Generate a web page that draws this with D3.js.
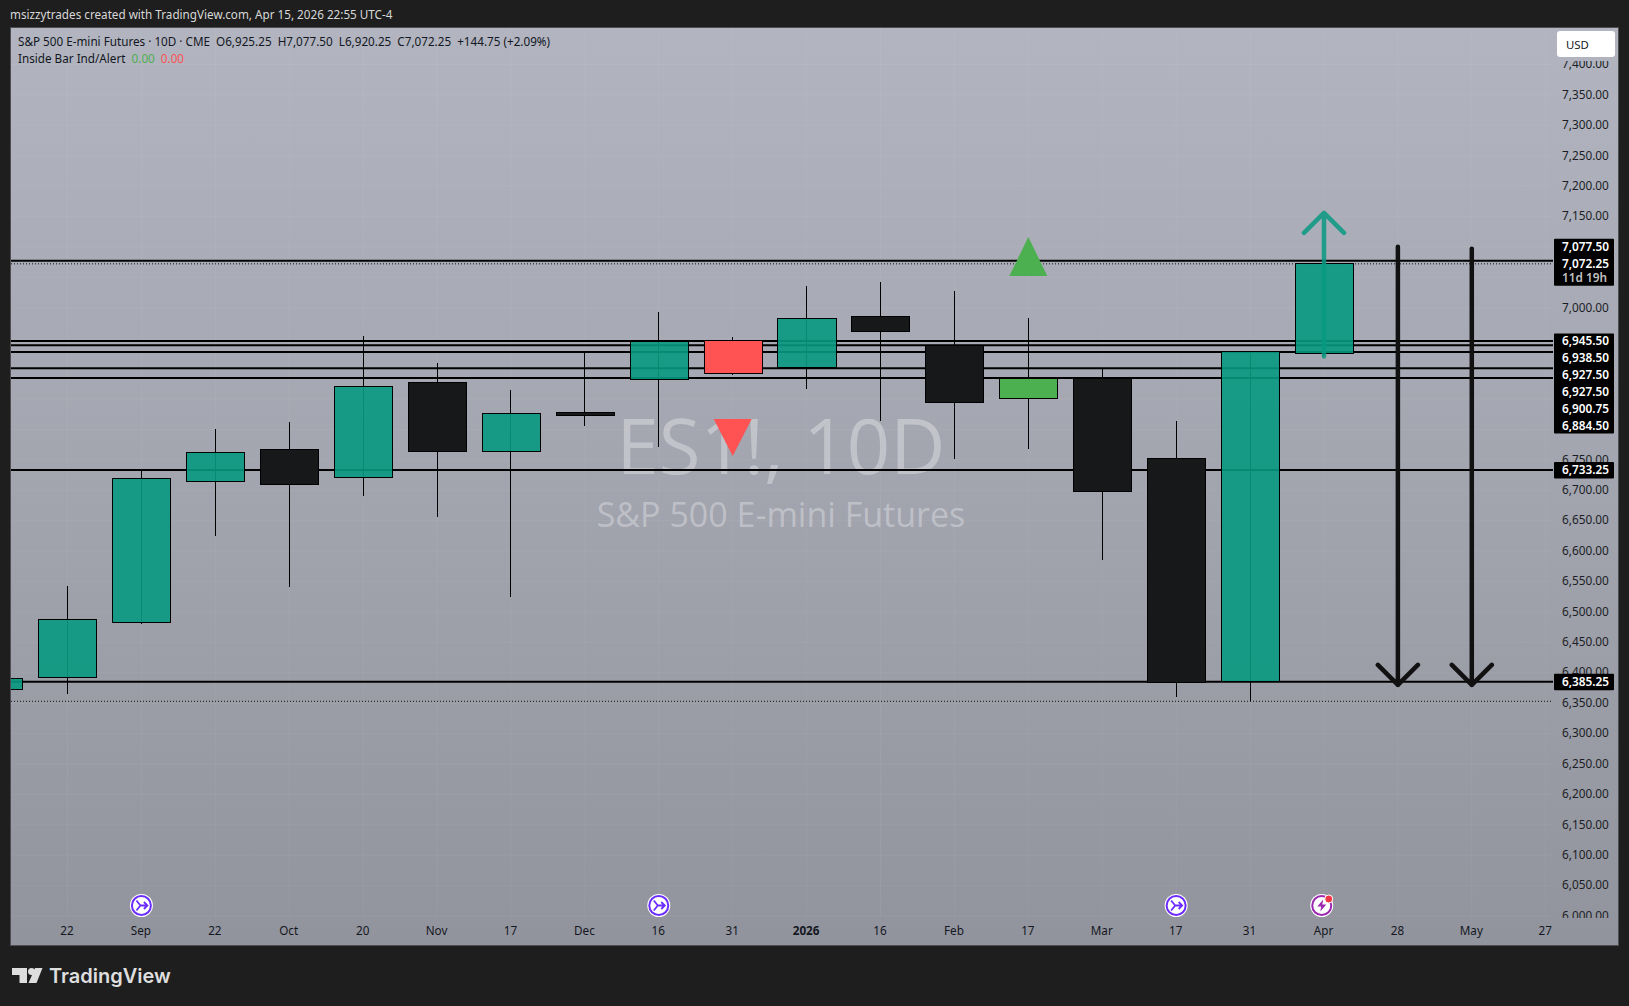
<!DOCTYPE html>
<html>
<head>
<meta charset="utf-8">
<script src="https://cdn.jsdelivr.net/npm/d3@7"></script>
<style>
html, body { margin: 0; padding: 0; background: #1e1e1e; overflow: hidden; }
svg { display: block; }
text { font-family: "Noto Sans", sans-serif; white-space: pre; }
</style>
</head>
<body>
<div id="container"></div>
<script>
// candles, index 0 is the "22" bar, -1 is the one cut off at the left edge
var barIndex = [-1, 0, 1, 2, 3, 4, 5, 6, 7, 8, 9, 10, 11, 12, 13, 14, 15, 16, 17];
var opens = [6373, 6392.5, 6483, 6714.75, 6767.5, 6721.25, 6877.5, 6764, 6828.25, 6882.5, 6945.5, 6902.25, 6986, 6938.5, 6850.5, 6883, 6751.5, 6385.25, 6925.25];
var highs = [6391, 6542.5, 6735, 6800.75, 6812.25, 6953.5, 6909.25, 6865, 6926.75, 6993, 6952, 7036, 7042, 7027.75, 6983.25, 6899.5, 6814, 6927.5, 7077.5];
var lows = [6373, 6365.5, 6480.5, 6625.25, 6541.5, 6690.5, 6656.5, 6525, 6805.75, 6771.5, 6889.5, 6866.5, 6814, 6751.5, 6768.5, 6586, 6360.5, 6353, 6920.25];
var closes = [6391, 6487.75, 6719.75, 6762.5, 6709, 6871, 6764, 6826.5, 6822.5, 6945, 6892.25, 6982.75, 6960.75, 6844.75, 6883.5, 6697.75, 6383.5, 6927.5, 7072.25];
var barKinds = ['up', 'up', 'up', 'up', 'down', 'up', 'down', 'up', 'down', 'up', 'insideDown', 'up', 'down', 'down', 'insideUp', 'down', 'down', 'up', 'up'];

var timeIndex = [0, 1, 2, 3, 4, 5, 6, 7, 8, 9, 10, 11, 12, 13, 14, 15, 16, 17, 18, 19, 20];
var timeLabels = ['22', 'Sep', '22', 'Oct', '20', 'Nov', '17', 'Dec', '16', '31', '2026', '16', 'Feb', '17', 'Mar', '17', '31', 'Apr', '28', 'May', '27'];
var priceTicks = [6000, 6050, 6100, 6150, 6200, 6250, 6300, 6350, 6400, 6450, 6500, 6550, 6600, 6650, 6700, 6750, 6800, 6850, 6900, 6950, 7000, 7050, 7100, 7150, 7200, 7250, 7300, 7350, 7400];
// these sit fully behind the price tags
var coveredTicks = [6800, 6850, 6900, 6950, 7050, 7100];

var levelLines = [7077.5, 6945.5, 6938.5, 6927.5, 6900.75, 6884.5, 6733.25, 6385.25];
var dottedLines = [7072.25, 6353];
var levelTags = [6945.5, 6938.5, 6927.5, 6927.5, 6900.75, 6884.5];
var singleTags = [6733.25, 6385.25];

var arrowIndex = [17, 18, 19];
var arrowFrom = [6920, 7100.5, 7097];
var arrowTo = [7156, 6380, 6380];
var arrowKinds = ['teal', 'black', 'black'];

var triangleIndex = [9, 13];
var trianglePrice = [6817, 7052.25];
var triangleKinds = ['sell', 'buy'];

var eventIndex = [1, 8, 15, 16.97];
var eventKinds = ['split', 'split', 'split', 'news'];

var width = 1629, height = 1006;
var pane = { left: 11, right: 1618, top: 28, bottom: 945 };
var lineEnd = 1553;
var fmt = d3.format(',.2f');

var x = d3.scaleLinear().domain([0, 20]).range([67.5, 1545.7]);
var y = d3.scaleLinear().domain([6000, 7400]).range([916, 64.5]);
var bodyW = (x(1) - x(0)) * 0.785;

var bodyColor = { up: '#089981', down: '#17181a', insideUp: '#4caf50', insideDown: '#ff5252' };
var bodyOpacity = { up: 0.9, down: 1, insideUp: 1, insideDown: 1 };

var svg = d3.select('#container').append('svg')
	.attr('width', width)
	.attr('height', height);

var defs = svg.append('defs');
var grad = defs.append('linearGradient').attr('id', 'paneBg')
	.attr('x1', 0).attr('y1', 0).attr('x2', 0).attr('y2', 1);
grad.append('stop').attr('offset', '0%').attr('stop-color', '#b2b5c0');
grad.append('stop').attr('offset', '100%').attr('stop-color', '#92949d');

defs.append('clipPath').attr('id', 'chartClip').append('rect')
	.attr('x', pane.left).attr('y', pane.top)
	.attr('width', pane.right - pane.left).attr('height', pane.bottom - pane.top);
defs.append('clipPath').attr('id', 'axisClip').append('rect')
	.attr('x', 1554).attr('y', 61)
	.attr('width', 64).attr('height', 857);

svg.append('rect')
	.attr('x', 0).attr('y', 0)
	.attr('width', width).attr('height', height)
	.attr('fill', '#1e1e1e');

svg.append('rect')
	.attr('x', 10.5).attr('y', 27.5)
	.attr('width', 1608).attr('height', 918)
	.attr('fill', 'url(#paneBg)')
	.attr('stroke', '#4e4e52');

svg.append('text')
	.attr('x', 10).attr('y', 19)
	.attr('font-size', 11.7)
	.attr('fill', '#d8d8d8')
	.text('msizzytrades created with TradingView.com, Apr 15, 2026 22:55 UTC-4');

var g = svg.append('g').attr('clip-path', 'url(#chartClip)');

// grid
g.append('g').selectAll('line')
	.data(timeIndex).enter().append('line')
	.attr('x1', function (d) { return x(d); })
	.attr('x2', function (d) { return x(d); })
	.attr('y1', pane.top).attr('y2', 917)
	.attr('stroke', 'rgba(255,255,255,0.05)');
g.append('g').selectAll('line')
	.data(priceTicks).enter().append('line')
	.attr('x1', pane.left).attr('x2', lineEnd)
	.attr('y1', function (d) { return y(d); })
	.attr('y2', function (d) { return y(d); })
	.attr('stroke', 'rgba(255,255,255,0.05)');

// watermark
g.append('text')
	.attr('x', 781).attr('y', 474)
	.attr('text-anchor', 'middle')
	.attr('font-size', 76)
	.style('font-family', '"Open Sans", sans-serif')
	.attr('fill', 'rgba(255,255,255,0.33)')
	.text('ES1!, 10D');
g.append('text')
	.attr('x', 781).attr('y', 527)
	.attr('text-anchor', 'middle')
	.attr('font-size', 34)
	.style('font-family', '"Open Sans", sans-serif')
	.attr('fill', 'rgba(255,255,255,0.33)')
	.text('S&P 500 E-mini Futures');

// level lines sit under the candles
g.append('g').selectAll('line')
	.data(levelLines).enter().append('line')
	.attr('x1', pane.left).attr('x2', lineEnd)
	.attr('y1', function (d) { return y(d); })
	.attr('y2', function (d) { return y(d); })
	.attr('stroke', '#000')
	.attr('stroke-width', 2);
g.append('g').selectAll('line')
	.data(dottedLines).enter().append('line')
	.attr('x1', pane.left).attr('x2', lineEnd)
	.attr('y1', function (d) { return y(d); })
	.attr('y2', function (d) { return y(d); })
	.attr('stroke', '#111')
	.attr('stroke-width', 1)
	.attr('stroke-dasharray', '1,2');

// candles
var bars = g.append('g').selectAll('g')
	.data(barIndex).enter().append('g');

bars.append('line')
	.attr('x1', function (d) { return x(d); })
	.attr('x2', function (d) { return x(d); })
	.attr('y1', function (d, i) { return y(highs[i]); })
	.attr('y2', function (d, i) { return y(lows[i]); })
	.attr('stroke', '#000')
	.attr('stroke-width', 1)
	.attr('shape-rendering', 'crispEdges');

bars.append('rect')
	.attr('x', function (d) { return x(d) - bodyW / 2 + 0.4; })
	.attr('y', function (d, i) { return y(Math.max(opens[i], closes[i])); })
	.attr('width', bodyW)
	.attr('height', function (d, i) { return Math.abs(y(opens[i]) - y(closes[i])); })
	.attr('fill', function (d, i) { return bodyColor[barKinds[i]]; })
	.attr('fill-opacity', function (d, i) { return bodyOpacity[barKinds[i]]; })
	.attr('stroke', '#000')
	.attr('stroke-width', 1)
	.attr('shape-rendering', 'crispEdges');

// inside bar triangles
g.append('g').selectAll('path')
	.data(triangleIndex).enter().append('path')
	.attr('d', function (d, i) {
		var cx = x(d), py = y(trianglePrice[i]);
		// sell points down from its price, buy points up from its price
		return triangleKinds[i] === 'sell'
			? 'M' + (cx - 19) + ',' + py + 'L' + (cx + 19) + ',' + py + 'L' + cx + ',' + (py + 37) + 'Z'
			: 'M' + (cx - 19) + ',' + py + 'L' + (cx + 19) + ',' + py + 'L' + cx + ',' + (py - 39) + 'Z';
	})
	.attr('fill', function (d, i) { return triangleKinds[i] === 'sell' ? '#ff5252' : '#4caf50'; });

// drawn arrows
var arrows = g.append('g').selectAll('g')
	.data(arrowIndex).enter().append('g')
	.attr('fill', 'none')
	.attr('stroke-linecap', 'round')
	.attr('stroke-linejoin', 'round')
	.attr('stroke', function (d, i) { return arrowKinds[i] === 'teal' ? '#089981' : '#111'; })
	.attr('stroke-opacity', function (d, i) { return arrowKinds[i] === 'teal' ? 0.85 : 1; })
	.attr('stroke-width', 4.5);

arrows.append('path')
	.attr('d', function (d, i) {
		var cx = x(d), y0 = y(arrowFrom[i]), y1 = y(arrowTo[i]);
		var head = y1 > y0 ? -20 : 20;
		return 'M' + cx + ',' + y0 + 'L' + cx + ',' + y1 +
			'M' + (cx - 20) + ',' + (y1 + head) + 'L' + cx + ',' + y1 + 'L' + (cx + 20) + ',' + (y1 + head);
	});

// price axis
var axisG = svg.append('g').attr('clip-path', 'url(#axisClip)');
axisG.append('g')
	.attr('transform', 'translate(1562,-0.5)')
	.call(d3.axisRight(y)
		.tickValues(priceTicks.filter(function (d) { return coveredTicks.indexOf(d) < 0; }))
		.tickSize(0).tickPadding(0).tickFormat(fmt))
	.call(function (a) { a.select('.domain').remove(); })
	.selectAll('text')
	.attr('font-size', 11.8)
	.style('font-family', '"Noto Sans", sans-serif')
	.attr('fill', '#1c1e26');

// time axis
var timeAxis = svg.append('g')
	.attr('transform', 'translate(-1,924)')
	.call(d3.axisBottom(x).tickValues(timeIndex).tickSize(0).tickPadding(3)
		.tickFormat(function (d, i) { return timeLabels[i]; }));
timeAxis.select('.domain').remove();
timeAxis.selectAll('text')
	.attr('font-size', 11.7)
	.style('font-family', '"Noto Sans", sans-serif')
	.attr('font-weight', function (d, i) { return timeLabels[i] === '2026' ? 700 : 400; })
	.attr('fill', '#131722');

// price tags
function tagBox(y0, y1) {
	svg.append('rect')
		.attr('x', 1554).attr('y', y0)
		.attr('width', 60).attr('height', y1 - y0)
		.attr('rx', 1)
		.attr('fill', '#000');
}
function tagText(py, txt, color, weight) {
	svg.append('text')
		.attr('x', 1562).attr('y', py + 4.2)
		.attr('font-size', 11.8)
		.attr('font-weight', weight)
		.attr('fill', color)
		.text(txt);
}

var closeY = y(dottedLines[0]), highY = y(levelLines[0]);
tagBox(highY - 22, closeY + 22);
tagText(highY - 14, fmt(levelLines[0]), '#fff', 600);
tagText(closeY, fmt(dottedLines[0]), '#fff', 600);
tagText(closeY + 13.5, '11d 19h', '#c0c0c0', 600);

var stackTop = y(levelTags[0]);
tagBox(stackTop - 7.5, stackTop + 17 * levelTags.length - 9.5);
levelTags.forEach(function (d, i) {
	tagText(stackTop + 17 * i, fmt(d), '#fff', 600);
});

singleTags.forEach(function (d) {
	tagBox(y(d) - 8, y(d) + 8.5);
	tagText(y(d), fmt(d), '#fff', 600);
});

// currency button
svg.append('rect')
	.attr('x', 1557).attr('y', 31)
	.attr('width', 58).attr('height', 26)
	.attr('rx', 3)
	.attr('fill', '#fff');
svg.append('text')
	.attr('x', 1566).attr('y', 48.5)
	.attr('font-size', 11.4)
	.attr('fill', '#131722')
	.text('USD');

// legend
svg.append('text')
	.attr('x', 18).attr('y', 46)
	.attr('font-size', 11.7)
	.attr('fill', '#131722')
	.text('S&P 500 E-mini Futures · 10D · CME  O6,925.25  H7,077.50  L6,920.25  C7,072.25  +144.75 (+2.09%)');
var ind = svg.append('text')
	.attr('x', 18).attr('y', 63)
	.attr('font-size', 11.7)
	.attr('fill', '#131722');
ind.append('tspan').text('Inside Bar Ind/Alert  ');
ind.append('tspan').attr('fill', '#4caf50').text('0.00  ');
ind.append('tspan').attr('fill', '#ff5252').text('0.00');

// event icons along the bottom
var icons = svg.append('g').selectAll('g')
	.data(eventIndex).enter().append('g')
	.attr('transform', function (d) { return 'translate(' + x(d) + ',905.5)'; });

icons.append('circle').attr('r', 11.5).attr('fill', '#fff');
icons.append('circle')
	.attr('r', 9.5)
	.attr('fill', 'none')
	.attr('stroke-width', 2)
	.attr('stroke', function (d, i) { return eventKinds[i] === 'news' ? '#9c27b0' : '#6a2cff'; });
icons.filter(function (d, i) { return eventKinds[i] === 'split'; })
	.append('path')
	.attr('d', 'M-5,-5L-1,0L-5,5M-1,0H6M2.5,-3.5L6,0L2.5,3.5')
	.attr('fill', 'none')
	.attr('stroke', '#6a2cff')
	.attr('stroke-width', 1.8);
icons.filter(function (d, i) { return eventKinds[i] === 'news'; })
	.append('path')
	.attr('d', 'M1.5,-6L-4.5,1H-0.5L-1.5,6L4.5,-1H0.5Z')
	.attr('fill', '#9c27b0');
icons.filter(function (d, i) { return eventKinds[i] === 'news'; })
	.append('circle')
	.attr('cx', 7).attr('cy', -6.5).attr('r', 4)
	.attr('fill', '#f23645')
	.attr('stroke', '#fff')
	.attr('stroke-width', 1);

// logo
var logo = svg.append('g').attr('fill', '#dedede');
logo.append('path').attr('d', 'M12,968H27V983H19.5V975H12Z');
logo.append('circle').attr('cx', 31.5).attr('cy', 971.5).attr('r', 3.5);
logo.append('path').attr('d', 'M35,968H42.5L36.5,983H28.5Z');
logo.append('text')
	.attr('x', 49).attr('y', 983)
	.attr('font-size', 20)
	.attr('font-weight', 600)
	.style('font-family', 'Inter, sans-serif')
	.text('TradingView');
</script>
</body>
</html>
